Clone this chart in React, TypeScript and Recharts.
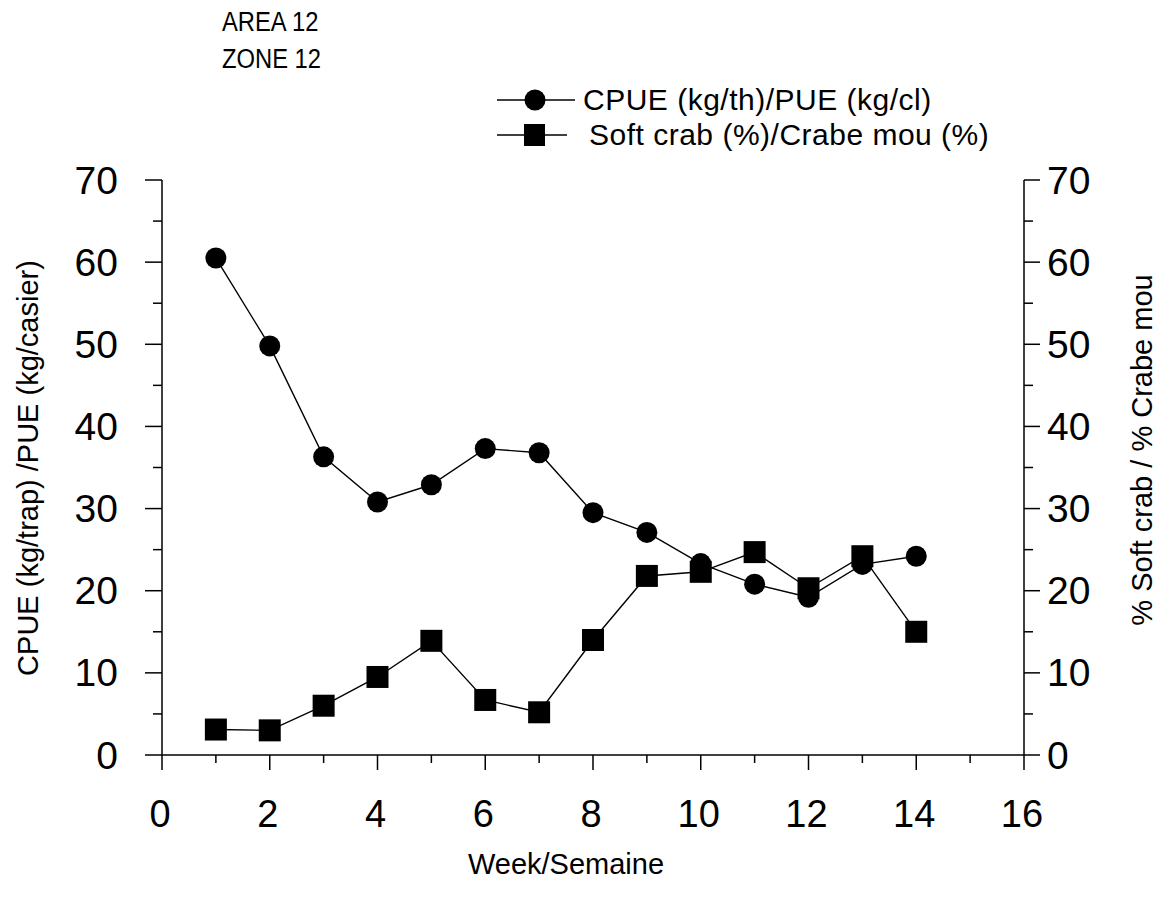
import { LineChart, Line, XAxis, YAxis, Legend, Label } from 'recharts'

// weekly values
const weeks = [1, 2, 3, 4, 5, 6, 7, 8, 9, 10, 11, 12, 13, 14]
const cpue = [60.5, 49.8, 36.3, 30.8, 32.9, 37.3, 36.8, 29.5, 27.1, 23.3, 20.8, 19.2, 23.2, 24.2]
const softCrab = [3.1, 3.0, 6.0, 9.5, 13.9, 6.7, 5.2, 14.0, 21.8, 22.3, 24.7, 20.3, 24.2, 15.0]

const xTicks = [0, 1, 2, 3, 4, 5, 6, 7, 8, 9, 10, 11, 12, 13, 14, 15, 16]
const yTicks = [0, 5, 10, 15, 20, 25, 30, 35, 40, 45, 50, 55, 60, 65, 70]

const cpueName = 'CPUE (kg/th)/PUE (kg/cl)'
const softName = 'Soft crab (%)/Crabe mou (%)'

const data = weeks.map((w, i) => ({ week: w, cpue: cpue[i], soft: softCrab[i] }))

const font = '"Liberation Sans", Arial, sans-serif'

function LeftTick(props: any) {
  const { x, y, payload } = props
  const major = payload.value % 10 === 0
  return (
    <g>
      <line x1={x} x2={x - (major ? 17 : 9)} y1={y} y2={y} stroke="#000" strokeWidth={1.5} />
      {major && (
        <text x={x - 44} y={y} textAnchor="end" dominantBaseline="central" fontSize={39} fontFamily={font} fill="#000">
          {payload.value}
        </text>
      )}
    </g>
  )
}

function RightTick(props: any) {
  const { x, y, payload } = props
  const major = payload.value % 10 === 0
  return (
    <g>
      <line x1={x} x2={x + (major ? 16 : 9)} y1={y} y2={y} stroke="#000" strokeWidth={1.5} />
      {major && (
        <text x={x + 23} y={y} textAnchor="start" dominantBaseline="central" fontSize={39} fontFamily={font} fill="#000">
          {payload.value}
        </text>
      )}
    </g>
  )
}

function BottomTick(props: any) {
  const { x, y, payload } = props
  const major = payload.value % 2 === 0
  return (
    <g>
      <line x1={x} x2={x} y1={y} y2={y + (major ? 15 : 8)} stroke="#000" strokeWidth={1.5} />
      {major && (
        <text x={x - 2} y={y + 59} textAnchor="middle" dominantBaseline="central" fontSize={38} fontFamily={font} fill="#000">
          {payload.value}
        </text>
      )}
    </g>
  )
}

function SquareDot(props: any) {
  const { cx, cy } = props
  if (cx == null || cy == null) return null
  return <rect x={cx - 11} y={cy - 11} width={22} height={22} fill="#000" />
}

function LegendBox() {
  const row = (marker: 'circle' | 'square', name: string, lineEnd: number, textLeft: number) => (
    <div style={{ display: 'flex', alignItems: 'center', height: 35 }}>
      <svg width={textLeft} height={30} style={{ flex: 'none' }}>
        <line x1={2} x2={lineEnd} y1={15} y2={15} stroke="#000" strokeWidth={1.3} />
        {marker === 'circle' ? (
          <circle cx={40} cy={15} r={10.5} fill="#000" />
        ) : (
          <rect x={29} y={4} width={21} height={22} fill="#000" />
        )}
      </svg>
      <span style={{ fontFamily: font, fontSize: 30, letterSpacing: 0.5, color: '#000', whiteSpace: 'nowrap' }}>{name}</span>
    </div>
  )
  return (
    <div>
      {row('circle', cpueName, 80, 88)}
      {row('square', softName, 72, 94)}
    </div>
  )
}

export default function App() {
  return (
    <div style={{ position: 'absolute', left: 0, top: 0, width: 1166, height: 905, background: '#fff' }}>
      <div
        style={{
          position: 'absolute',
          left: 222,
          top: 4,
          fontFamily: font,
          fontSize: 27,
          lineHeight: '37px',
          color: '#000',
          transform: 'scaleX(0.88)',
          transformOrigin: 'left top',
        }}
      >
        <div>AREA 12</div>
        <div>ZONE 12</div>
      </div>
      <LineChart width={1166} height={905} data={data} margin={{ top: 180, right: 22, bottom: 50, left: 22 }}>
        <XAxis
          dataKey="week"
          type="number"
          domain={[0, 16]}
          ticks={xTicks}
          interval={0}
          height={100}
          tickSize={0}
          tickMargin={0}
          tickLine={false}
          axisLine={{ stroke: '#000', strokeWidth: 1.5 }}
          tick={<BottomTick />}
        >
          <Label
            content={() => (
              <text x={566} y={864} textAnchor="middle" dominantBaseline="central" fontSize={29} fontFamily={font} fill="#000">
                Week/Semaine
              </text>
            )}
          />
        </XAxis>
        <YAxis
          yAxisId="left"
          orientation="left"
          type="number"
          domain={[0, 70]}
          ticks={yTicks}
          interval={0}
          width={140}
          tickSize={0}
          tickMargin={0}
          tickLine={false}
          axisLine={{ stroke: '#000', strokeWidth: 1.5 }}
          tick={<LeftTick />}
        >
          <Label
            content={() => (
              <text
                x={28}
                y={468}
                transform="rotate(-90, 28, 468)"
                textAnchor="middle"
                dominantBaseline="central"
                fontSize={29}
                fontFamily={font}
                fill="#000"
              >
                CPUE (kg/trap) /PUE (kg/casier)
              </text>
            )}
          />
        </YAxis>
        <YAxis
          yAxisId="right"
          orientation="right"
          type="number"
          domain={[0, 70]}
          ticks={yTicks}
          interval={0}
          width={120}
          tickSize={0}
          tickMargin={0}
          tickLine={false}
          axisLine={{ stroke: '#000', strokeWidth: 1.5 }}
          tick={<RightTick />}
        >
          <Label
            content={() => (
              <text
                x={1142}
                y={450}
                transform="rotate(-90, 1142, 450)"
                textAnchor="middle"
                dominantBaseline="central"
                fontSize={29}
                fontFamily={font}
                fill="#000"
              >
                % Soft crab / % Crabe mou
              </text>
            )}
          />
        </YAxis>
        <Legend
          layout="horizontal"
          verticalAlign="middle"
          align="center"
          content={<LegendBox />}
          wrapperStyle={{ position: 'absolute', left: 495, top: 82, width: 560 }}
        />
        <Line
          yAxisId="left"
          dataKey="cpue"
          name={cpueName}
          type="linear"
          stroke="#000"
          strokeWidth={1.4}
          dot={{ r: 10.5, fill: '#000', stroke: '#000', strokeWidth: 0 }}
          activeDot={false}
          isAnimationActive={false}
        />
        <Line
          yAxisId="right"
          dataKey="soft"
          name={softName}
          type="linear"
          stroke="#000"
          strokeWidth={1.4}
          dot={<SquareDot />}
          activeDot={false}
          isAnimationActive={false}
        />
      </LineChart>
    </div>
  )
}
